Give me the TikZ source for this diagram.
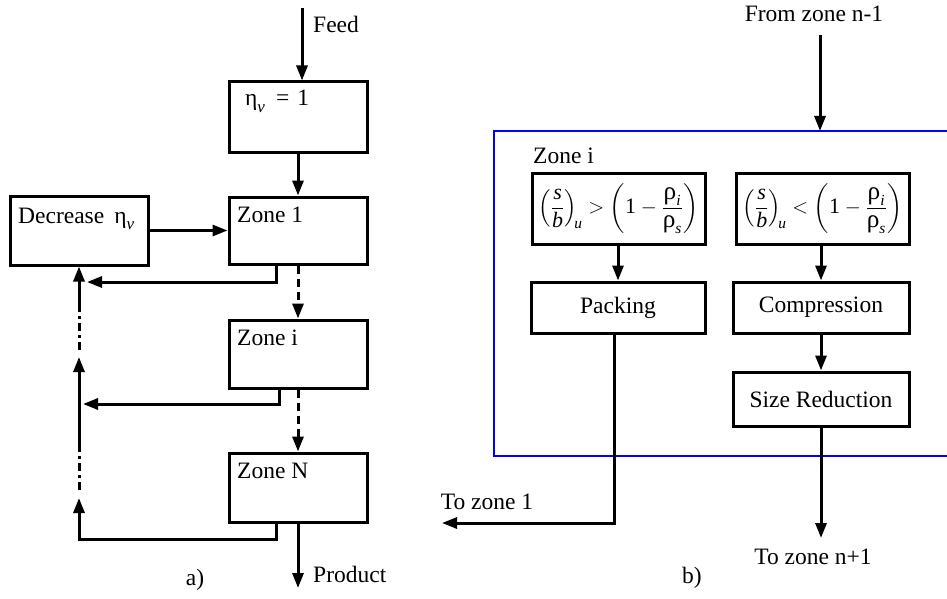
\documentclass[tikz,border=0pt]{standalone}
\usepackage{amsmath}
\usepackage{fontspec}
\setmainfont{Liberation Serif}
\usetikzlibrary{arrows.meta}
\newcommand\fit[1]{\text{\itshape #1}}
\newcommand\rhoX{\scalebox{1.15}{ρ}}
\newcommand\mysub[1]{\raisebox{-0.6ex}{\fontsize{17}{17}\selectfont\itshape #1}}
\newcommand\condf[1]{\fontsize{22}{26}\selectfont$\displaystyle\left(\frac{\fit{s}}{\fit{b}}\right)_{\!\fit{u}} #1 \left(\text{1} - \frac{\text{\rhoX}_{\fit{i}}}{\text{\rhoX}_{\fit{s}}}\right)$}
\begin{document}
\begin{tikzpicture}[x=1pt,y=-1pt,
  font=\fontsize{23.5}{28}\selectfont,
  box/.style={draw, line width=3pt, inner sep=0pt, fill=white},
  txt/.style={anchor=base west, inner sep=0pt},
  lbl/.style={anchor=center, inner sep=0pt},
  conn/.style={line width=3pt, -{Triangle[length=15pt,width=11pt]}},
  dconn/.style={conn, dash pattern=on 8pt off 5pt},
  dotted line/.style={line width=3pt, dash pattern=on 8pt off 4pt on 3pt off 4pt}]
\useasboundingbox (0,0) rectangle (947,599);

% ---------- b) frame ----------
\coordinate (bTR) at (947,131);
\coordinate (bTL) at (494,131);
\coordinate (bBL) at (494,456);
\coordinate (bBR) at (947,456);
\draw[blue, line width=1.6pt] (bTR) -- (bTL) -- (bBL) -- (bBR);

% ---------- a) ----------
\node[box, minimum width=138pt, minimum height=70pt] (eta) at (298,117) {};
\node[txt] (etaT) at (245,106) {η\mysub{v}\hspace{11pt}=\hspace{8pt}1};
\node[box, minimum width=138pt, minimum height=67pt] (z1) at (298,230.5) {};
\node[txt] (z1T) at (237,222) {Zone 1};
\node[box, minimum width=138pt, minimum height=68pt] (zi) at (298,354) {};
\node[txt] (ziT) at (237,345) {Zone i};
\node[box, minimum width=138pt, minimum height=69pt] (zN) at (298,487.5) {};
\node[txt] (zNT) at (237,478) {Zone N};
\node[box, minimum width=138pt, minimum height=69pt] (dec) at (79,230.5) {};
\node[txt] (decT) at (18,223) {Decrease\hspace{10pt}η\mysub{v}};

\coordinate (feedS) at (302,8);
\draw[conn] (feedS) -- (feedS |- eta.north);
\node[txt] (feed) at (313,33) {Feed};

\draw[conn] (eta.south) -- (z1.north);
\draw[conn] (dec.east) -- (z1.west);
\draw[dconn] (z1.south) -- (zi.north);
\draw[dconn] (zi.south) -- (zN.north);

% returns
\coordinate (r1a) at (276,264);
\coordinate (r1b) at (276,282);
\coordinate (r1e) at (87,282);
\draw[conn] (r1a) -- (r1b) -- (r1e);
\coordinate (r2a) at (279,388);
\coordinate (r2b) at (279,404);
\coordinate (r2e) at (83,404);
\draw[conn] (r2a) -- (r2b) -- (r2e);
\coordinate (r3a) at (276,522);
\coordinate (r3b) at (276,539);
\coordinate (r3c) at (79,539);
\coordinate (r3e) at (79,498);
\draw[conn] (r3a) -- (r3b) -- (r3c) -- (r3e);

% vertical feedback line
\coordinate (v1) at (79,490);
\coordinate (v2) at (79,446);
\coordinate (v3) at (79,357);
\coordinate (v4) at (79,350);
\coordinate (v5) at (79,310);
\draw[dotted line] (v1) -- (v2);
\draw[conn] (v2) -- (v3);
\draw[dotted line] (v4) -- (v5);
\draw[conn] (v5) -- (dec.south);

\coordinate (prodE) at (298,588);
\draw[conn] (zN.south) -- (prodE);
\node[txt] (prod) at (313,582) {Product};
\node[lbl] (la) at (195,580) {a)};

% ---------- b) ----------
\node[txt] (zoneiT) at (533,163) {Zone i};
\node[box, minimum width=173pt, minimum height=71pt] (c1) at (618.5,208.5) {\condf{>}};
\node[box, minimum width=173pt, minimum height=71pt] (c2) at (822.5,208.5) {\condf{<}};
\node[box, minimum width=174pt, minimum height=51pt] (pk) at (618,307.5) {Packing};
\node[box, minimum width=176pt, minimum height=51pt] (cp) at (821,307.5) {Compression};
\node[box, minimum width=176pt, minimum height=54pt] (sr) at (821,399) {Size Reduction};

\draw[conn] (c1.south -| pk.north) -- (pk.north);
\draw[conn] (c2.south -| cp.north) -- (cp.north);
\draw[conn] (cp.south) -- (sr.north);

\coordinate (fromS) at (820,35);
\draw[conn] (fromS) -- (fromS |- bTL);
\node[lbl] (fromT) at (814,14) {From zone n-1};

\coordinate (toN) at (821,538);
\draw[conn] (sr.south) -- (toN);
\node[lbl] (toNT) at (813,557) {To zone n+1};

\coordinate (pkb) at (614,523);
\coordinate (to1) at (442,523);
\draw[conn] (pk.south -| pkb) -- (pkb) -- (to1);
\node[lbl] (to1T) at (487,502) {To zone 1};
\node[lbl] (lb) at (692,578) {b)};
\end{tikzpicture}
\end{document}
